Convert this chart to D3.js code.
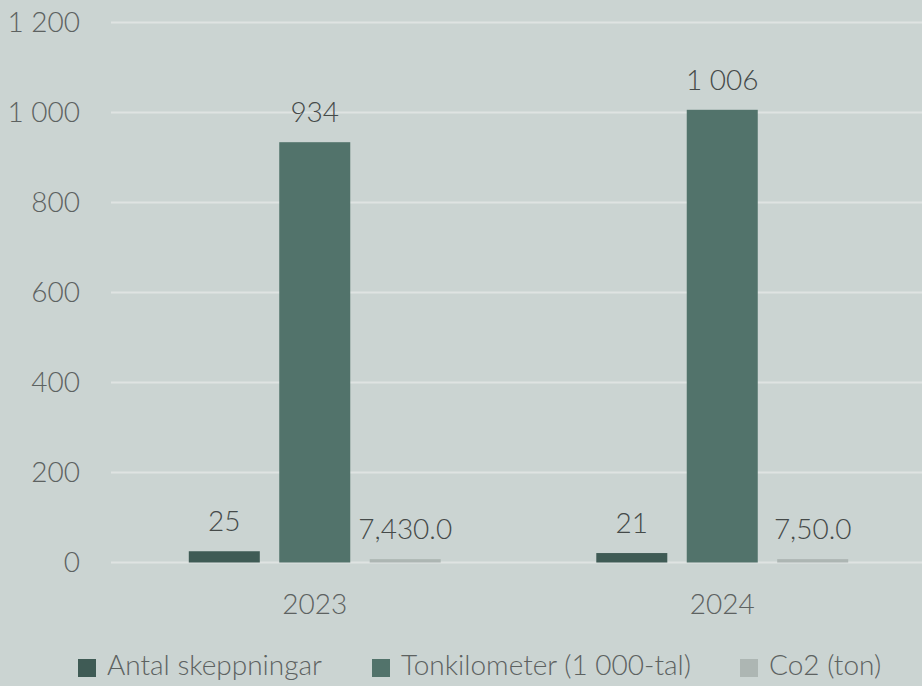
<!DOCTYPE html>
<html>
<head>
<meta charset="utf-8">
<script src="https://cdn.jsdelivr.net/npm/d3@7"></script>
<style>
  body { margin: 0; background: #cbd4d2; }
  svg { display: block; font-family: "Source Sans Pro", "Lato", "Noto Sans", sans-serif; font-weight: 300; }
</style>
</head>
<body>
<script>
/* data */
var years = ["2023", "2024"];
var seriesNames = ["Antal skeppningar", "Tonkilometer (1 000-tal)", "Co2 (ton)"];
var seriesColors = ["#3f5b55", "#52736b", "#adb6b3"];
var antal = [25, 21];
var tonkm = [934, 1006];
var co2 = [7.43, 7.5];
var labels = [["25", "934", "7,430.0"], ["21", "1 006", "7,50.0"]];
var yTicks = [0, 200, 400, 600, 800, 1000, 1200];
var yTickLabels = ["0", "200", "400", "600", "800", "1 000", "1 200"];

var W = 922, H = 686;
var svg = d3.select("body").append("svg")
            .attr("width", W)
            .attr("height", H);

var x0 = d3.scaleBand().domain(years).range([111, 926]);
var x1 = d3.scaleBand().domain(seriesNames).range([0, x0.bandwidth()])
           .paddingInner(0.215).paddingOuter(0.86);
var y = d3.scaleLinear().domain([0, 1200]).range([562.5, 22.5]);

/* grid */
svg.append("g").selectAll("line")
   .data(yTicks)
   .enter()
   .append("line")
   .attr("x1", 111).attr("x2", W)
   .attr("y1", function(d) { return y(d); })
   .attr("y2", function(d) { return y(d); })
   .attr("stroke", "#dfe3e2")
   .attr("stroke-width", 2);

/* y axis labels */
var yAxis = d3.axisLeft(y).tickValues(yTicks)
              .tickFormat(function(d, i) { return yTickLabels[i]; })
              .tickSize(0).tickPadding(0);
var ya = svg.append("g").attr("transform", "translate(80,0)").call(yAxis)
            .attr("font-family", null).attr("font-size", null);
ya.select(".domain").remove();
ya.selectAll("text").attr("font-size", 28).attr("fill", "#5d6261");

/* bars */
var rows = years.map(function(yr, i) {
  return { year: yr, vals: [antal[i], tonkm[i], co2[i]], labs: labels[i] };
});
var groups = svg.selectAll("g.grp")
                .data(rows)
                .enter()
                .append("g")
                .attr("class", "grp")
                .attr("transform", function(d) { return "translate(" + x0(d.year) + ",0)"; });

groups.selectAll("rect")
      .data(function(d) { return d.vals.map(function(v, j) { return { name: seriesNames[j], v: v, j: j }; }); })
      .enter()
      .append("rect")
      .attr("x", function(d) { return x1(d.name); })
      .attr("width", x1.bandwidth())
      .attr("y", function(d) { return y(d.v); })
      .attr("height", function(d) { return y(0) - y(d.v); })
      .attr("fill", function(d) { return seriesColors[d.j]; });

groups.selectAll("text.lab")
      .data(function(d) { return d.vals.map(function(v, j) { return { name: seriesNames[j], v: v, lab: d.labs[j] }; }); })
      .enter()
      .append("text")
      .attr("class", "lab")
      .attr("x", function(d) { return x1(d.name) + x1.bandwidth() / 2; })
      .attr("y", function(d) { return y(d.v) - 20; })
      .attr("text-anchor", "middle")
      .attr("font-size", 28)
      .attr("fill", "#454a49")
      .text(function(d) { return d.lab; });

/* x axis labels */
var xAxis = d3.axisBottom(x0).tickSize(0).tickPadding(0);
var xa = svg.append("g").attr("transform", "translate(0,594)").call(xAxis)
            .attr("font-family", null).attr("font-size", null);
xa.select(".domain").remove();
xa.selectAll("text").attr("font-size", 28).attr("fill", "#5d6261");

/* legend */
var legX = [78, 372, 740];
var leg = svg.selectAll("g.leg")
             .data(seriesNames)
             .enter()
             .append("g")
             .attr("class", "leg")
             .attr("transform", function(d, i) { return "translate(" + legX[i] + ",659)"; });
leg.append("rect")
   .attr("width", 18).attr("height", 18)
   .attr("fill", function(d, i) { return seriesColors[i]; });
leg.append("text")
   .attr("x", 29).attr("y", 16)
   .attr("font-size", 28)
   .attr("fill", "#5d6261")
   .text(function(d) { return d; });
</script>
</body>
</html>
